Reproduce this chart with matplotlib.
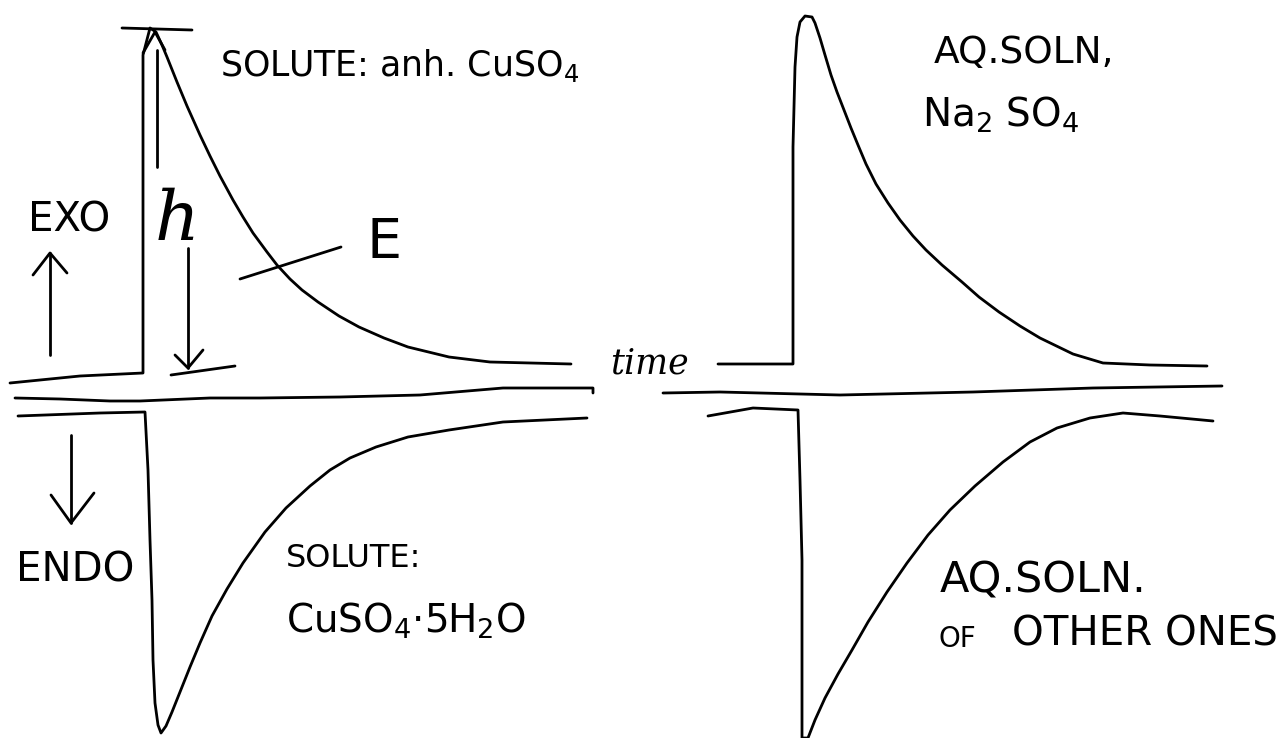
import matplotlib.pyplot as plt

# thermograms sketched in pixel units (x to the right, y downward)
# exothermic trace: anhydrous CuSO4
exo_cu_x = [10, 40, 80, 143, 143, 143, 150, 156, 162, 167, 177, 187, 200, 210, 220, 233, 243, 253, 267,
            277, 290, 302, 318, 339, 359, 384, 408, 449, 490, 571]
exo_cu_y = [383, 380, 376, 373, 200, 55, 28, 32, 45, 57, 82, 106, 135, 156, 176, 200, 217, 233, 252,
            265, 279, 290, 302, 316, 327, 338, 347, 357, 362, 364]

# reference baselines between the traces
base_left_x = [15, 60, 110, 140, 210, 260, 340, 420, 503, 593, 593]
base_left_y = [398, 399, 401, 401, 398, 398, 397, 395, 388, 388, 393]
base_right_x = [663, 720, 840, 973, 1093, 1222]
base_right_y = [393, 392, 395, 392, 388, 386]

# endothermic trace: CuSO4.5H2O
endo_cu_x = [18, 100, 145, 148, 150, 152, 153, 155, 158, 161, 166, 172, 180, 190, 200, 212, 227, 243,
             265, 286, 310, 330, 350, 376, 408, 449, 503, 587]
endo_cu_y = [416, 413, 412, 470, 540, 600, 660, 703, 725, 733, 726, 712, 692, 667, 643, 616, 589, 563,
             532, 508, 486, 470, 458, 447, 437, 430, 422, 418]

# exothermic trace: aqueous Na2SO4
exo_na_x = [718, 760, 793, 793, 795, 797, 800, 805, 812, 815, 820, 825, 831, 837, 844, 851, 858, 866,
            876, 888, 900, 913, 926, 942, 962, 979, 999, 1020, 1040, 1073, 1103, 1150, 1207]
exo_na_y = [364, 364, 364, 147, 67, 37, 22, 16, 17, 23, 38, 55, 75, 92, 110, 128, 145, 164,
            184, 203, 220, 236, 250, 265, 282, 297, 312, 326, 338, 354, 363, 365, 366]

# endothermic trace: aqueous solutions of the others
endo_aq_x = [708, 753, 798, 800, 802, 802, 808, 815, 825, 838, 852, 868, 887, 907, 928, 950, 975,
             1003, 1030, 1057, 1090, 1123, 1160, 1213]
endo_aq_y = [416, 408, 410, 480, 560, 738, 738, 720, 698, 674, 650, 622, 592, 563, 535, 510, 486,
             462, 442, 428, 418, 413, 416, 421]

# direction arrows and peak-height marker
exo_shaft = ([50, 50], [355, 253])
exo_head = ([33, 50, 67], [275, 253, 273])
endo_shaft = ([71, 71], [435, 523])
endo_head = ([51, 71, 94], [495, 523, 493])
h_top_bar = ([122, 192], [28, 30])
h_up_shaft = ([157, 157], [167, 50])
h_up_head = ([143, 155, 165], [53, 32, 50])
h_down_shaft = ([188, 188], [248, 368])
h_down_head = ([175, 188, 203], [355, 368, 350])
h_foot = ([171, 235], [375, 366])
e_leader = ([240, 341], [279, 247])

fig = plt.figure(figsize=(12.84, 7.38), dpi=100)
ax = fig.add_axes([0, 0, 1, 1])
ax.set_xlim(0, 1284)
ax.set_ylim(738, 0)
ax.axis('off')

lw = 2.0
for xs, ys in [(exo_cu_x, exo_cu_y), (base_left_x, base_left_y), (base_right_x, base_right_y),
               (endo_cu_x, endo_cu_y), (exo_na_x, exo_na_y), (endo_aq_x, endo_aq_y)]:
    ax.plot(xs, ys, color='black', lw=lw, solid_joinstyle='round', solid_capstyle='round')

for xs, ys in [exo_shaft, exo_head, endo_shaft, endo_head, h_top_bar, h_up_shaft, h_up_head,
               h_down_shaft, h_down_head, h_foot, e_leader]:
    ax.plot(xs, ys, color='black', lw=lw, solid_capstyle='round', solid_joinstyle='round')

txt = dict(color='black', va='baseline', ha='left', family='DejaVu Sans')
ax.text(220, 76, 'SOLUTE: anh. CuSO$_4$', fontsize=25, **txt)
ax.text(28, 232, 'EXO', fontsize=29, **txt)
ax.text(155, 240, 'h', fontsize=50, color='black', va='baseline', ha='left',
        family='DejaVu Serif', style='italic')
ax.text(367, 258, 'E', fontsize=40, **txt)
ax.text(610, 374, 'time', fontsize=25, color='black', va='baseline', ha='left',
        family='DejaVu Serif', style='italic')
ax.text(934, 63, 'AQ.SOLN,', fontsize=27, **txt)
ax.text(922, 127, 'Na$_2$ SO$_4$', fontsize=28, **txt)
ax.text(16, 582, 'ENDO', fontsize=29, **txt)
ax.text(286, 567, 'SOLUTE:', fontsize=23, **txt)
ax.text(286, 633, 'CuSO$_4$·5H$_2$O', fontsize=28, **txt)
ax.text(940, 593, 'AQ.SOLN.', fontsize=31, **txt)
ax.text(938, 647, 'OF', fontsize=20, **txt)
ax.text(1278, 645, 'OTHER ONES', fontsize=29, color='black', va='baseline', ha='right',
        family='DejaVu Sans')

fig.savefig('out.png', dpi=100, facecolor='white')
